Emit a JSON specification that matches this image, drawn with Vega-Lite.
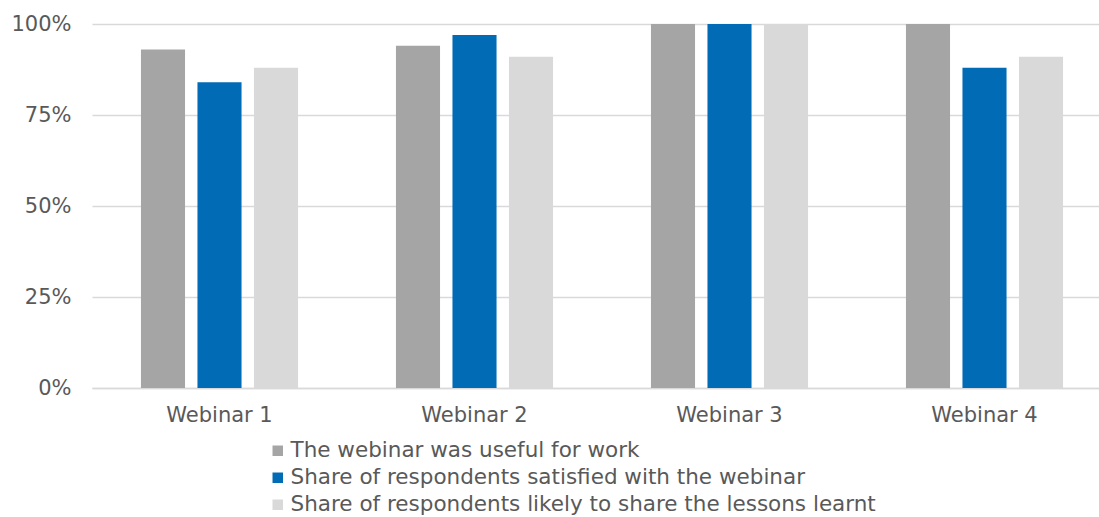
{
  "$schema": "https://vega.github.io/schema/vega-lite/v6.json",
  "autosize": {"type": "none"},
  "padding": {"left": 92, "top": 24, "right": 0, "bottom": 129},
  "width": 1020,
  "height": 364,
  "background": "white",
  "config": {
    "view": {"stroke": null},
    "font": "DejaVu Sans",
    "axis": {"labelFont": "DejaVu Sans", "labelColor": "#595959", "labelFontSize": 21},
    "legend": {"labelFont": "DejaVu Sans", "labelColor": "#595959", "labelFontSize": 21.5}
  },
  "data": {
    "values": [
      {"webinar": "Webinar 1", "measure": "The webinar was useful for work", "share": 0.93},
      {"webinar": "Webinar 1", "measure": "Share of respondents satisfied with the webinar", "share": 0.84},
      {"webinar": "Webinar 1", "measure": "Share of respondents likely to share the lessons learnt", "share": 0.88},
      {"webinar": "Webinar 2", "measure": "The webinar was useful for work", "share": 0.94},
      {"webinar": "Webinar 2", "measure": "Share of respondents satisfied with the webinar", "share": 0.97},
      {"webinar": "Webinar 2", "measure": "Share of respondents likely to share the lessons learnt", "share": 0.91},
      {"webinar": "Webinar 3", "measure": "The webinar was useful for work", "share": 1.0},
      {"webinar": "Webinar 3", "measure": "Share of respondents satisfied with the webinar", "share": 1.0},
      {"webinar": "Webinar 3", "measure": "Share of respondents likely to share the lessons learnt", "share": 1.0},
      {"webinar": "Webinar 4", "measure": "The webinar was useful for work", "share": 1.0},
      {"webinar": "Webinar 4", "measure": "Share of respondents satisfied with the webinar", "share": 0.88},
      {"webinar": "Webinar 4", "measure": "Share of respondents likely to share the lessons learnt", "share": 0.91}
    ]
  },
  "mark": {"type": "bar"},
  "encoding": {
    "x": {
      "field": "webinar",
      "type": "nominal",
      "scale": {"paddingInner": 0.384, "paddingOuter": 0.192},
      "axis": {
        "title": null,
        "labelAngle": 0,
        "ticks": false,
        "domainColor": "#d9d9d9",
        "domainWidth": 1.5,
        "labelPadding": 16
      }
    },
    "xOffset": {
      "field": "measure",
      "type": "nominal",
      "sort": [
        "The webinar was useful for work",
        "Share of respondents satisfied with the webinar",
        "Share of respondents likely to share the lessons learnt"
      ],
      "scale": {"paddingInner": 0.22, "paddingOuter": 0}
    },
    "y": {
      "field": "share",
      "type": "quantitative",
      "scale": {"domain": [0, 1], "nice": false},
      "axis": {
        "title": null,
        "format": ".0%",
        "values": [0, 0.25, 0.5, 0.75, 1],
        "ticks": false,
        "domain": false,
        "gridColor": "#d9d9d9",
        "gridWidth": 1.5,
        "labelPadding": 21
      }
    },
    "color": {
      "field": "measure",
      "type": "nominal",
      "sort": [
        "The webinar was useful for work",
        "Share of respondents satisfied with the webinar",
        "Share of respondents likely to share the lessons learnt"
      ],
      "scale": {
        "domain": [
          "The webinar was useful for work",
          "Share of respondents satisfied with the webinar",
          "Share of respondents likely to share the lessons learnt"
        ],
        "range": ["#a5a5a5", "#016bb5", "#d9d9d9"]
      },
      "legend": {
        "title": null,
        "orient": "none",
        "legendX": 175,
        "legendY": 416,
        "direction": "vertical",
        "symbolType": "square",
        "symbolSize": 110,
        "symbolStrokeWidth": 0,
        "labelOffset": 2,
        "rowPadding": 4,
        "labelLimit": 900
      }
    }
  }
}
